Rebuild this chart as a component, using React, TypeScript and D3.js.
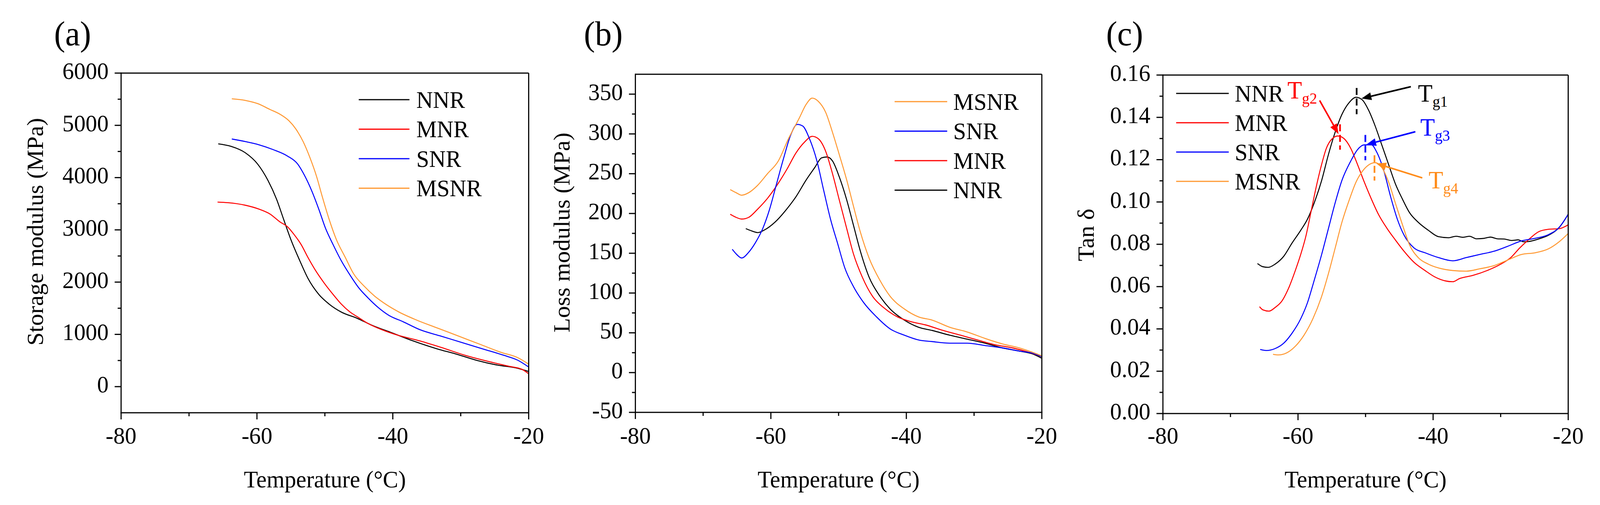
import React from "react";
import * as d3 from "d3";

type Pt = [number, number];

const W = 4228;
const H = 1292;
const FONT = '"Liberation Serif", "Times New Roman", serif';

// x axis (shared)
const tempDomain: [number, number] = [-80, -20];
const tempTicks = [-80, -60, -40, -20];
const tempMinor = [-70, -50, -30];

// y axes
const storageTicks = [0, 1000, 2000, 3000, 4000, 5000, 6000];
const storageMinor = [500, 1500, 2500, 3500, 4500, 5500];
const lossTicks = [-50, 0, 50, 100, 150, 200, 250, 300, 350];
const lossMinor = [-25, 25, 75, 125, 175, 225, 275, 325];
const tanTicks = [0, 0.02, 0.04, 0.06, 0.08, 0.1, 0.12, 0.14, 0.16];
const tanMinor = [0.01, 0.03, 0.05, 0.07, 0.09, 0.11, 0.13, 0.15];

const seriesColors: Record<string, string> = {
  NNR: "#000000",
  MNR: "#ff0000",
  SNR: "#0000ff",
  MSNR: "#ff9933",
};

// (a) storage modulus, MPa
const storageNNR: Pt[] = [
  [-65.7, 4646], [-63.8, 4597], [-61.7, 4474], [-59.9, 4259], [-58.4, 3951], [-57.1, 3582],
  [-56.1, 3212], [-55.0, 2812], [-53.7, 2412], [-52.5, 2074], [-50.9, 1766], [-49.4, 1582],
  [-47.6, 1428], [-45.2, 1305], [-43.2, 1182], [-40.1, 1028], [-37.0, 874], [-33.4, 720],
  [-30.8, 628], [-27.7, 505], [-24.6, 412], [-21.6, 351], [-20, 289],
];
const storageMNR: Pt[] = [
  [-65.8, 3532], [-64.3, 3520], [-61.7, 3471], [-59.7, 3397], [-58.1, 3305], [-56.6, 3151],
  [-55.5, 3059], [-54.5, 2905], [-53.5, 2720], [-52.5, 2474], [-51.4, 2228], [-50.1, 1982],
  [-48.8, 1766], [-47.6, 1582], [-46.3, 1428], [-45.2, 1335], [-43.7, 1212], [-41.6, 1089],
  [-39.6, 997], [-36.0, 874], [-32.9, 751], [-29.3, 597], [-25.7, 474], [-22.6, 382],
  [-21.0, 332], [-20, 246],
];
const storageSNR: Pt[] = [
  [-63.7, 4739], [-61.7, 4689], [-59.7, 4628], [-57.6, 4535], [-55.5, 4412], [-54.0, 4259],
  [-53.0, 4043], [-51.9, 3736], [-50.9, 3397], [-49.9, 3028], [-48.8, 2720], [-47.6, 2412],
  [-46.3, 2135], [-45.0, 1889], [-43.7, 1705], [-42.2, 1520], [-40.6, 1366], [-38.5, 1243],
  [-36.0, 1089], [-32.9, 966], [-29.8, 843], [-26.7, 720], [-23.6, 597], [-21.6, 505], [-20, 375],
];
const storageMSNR: Pt[] = [
  [-63.7, 5508], [-61.7, 5477], [-59.9, 5416], [-58.1, 5305], [-56.6, 5212], [-55.3, 5089],
  [-54.3, 4935], [-53.2, 4689], [-52.2, 4382], [-51.2, 4012], [-50.4, 3643], [-49.4, 3212],
  [-48.3, 2812], [-47.0, 2474], [-45.8, 2166], [-44.2, 1920], [-42.7, 1735], [-41.1, 1582],
  [-39.1, 1428], [-36.5, 1274], [-33.4, 1120], [-30.3, 966], [-27.2, 812], [-24.1, 658],
  [-21.6, 554], [-20, 431],
];

// (b) loss modulus, MPa
const lossMSNR: Pt[] = [
  [-66.0, 230], [-65.1, 226], [-64.3, 223], [-63.3, 226], [-62.0, 235], [-60.5, 250],
  [-58.9, 266], [-57.4, 294], [-55.8, 320], [-54.8, 337], [-53.9, 345], [-53.0, 341],
  [-51.9, 327], [-50.9, 302], [-49.9, 274], [-48.8, 242], [-47.8, 209], [-46.8, 177],
  [-45.5, 144], [-43.9, 116], [-42.4, 96], [-40.3, 80], [-38.2, 70], [-36.2, 66],
  [-33.6, 57], [-31.0, 51], [-28.4, 43], [-25.8, 36], [-23.3, 31], [-21.2, 25], [-20, 21],
];
const lossSNR: Pt[] = [
  [-65.7, 155], [-65.1, 149], [-64.3, 144], [-63.3, 151], [-62.3, 163], [-61.2, 181],
  [-60.2, 205], [-59.2, 236], [-58.1, 270], [-57.1, 298], [-56.1, 312], [-55.3, 310],
  [-54.3, 294], [-53.2, 266], [-52.2, 229], [-51.2, 193], [-50.1, 161], [-49.1, 132],
  [-47.8, 108], [-46.3, 88], [-44.4, 70], [-42.4, 55], [-40.3, 47], [-38.2, 41],
  [-36.2, 39], [-33.6, 37], [-31.0, 37], [-28.4, 34], [-25.8, 31], [-23.3, 27], [-21.2, 24], [-20, 20],
];
const lossMNR: Pt[] = [
  [-66.0, 199], [-65.1, 195], [-64.3, 193], [-63.3, 195], [-62.0, 205], [-60.5, 219],
  [-58.9, 238], [-57.6, 256], [-56.3, 276], [-55.0, 290], [-53.9, 297], [-53.0, 294],
  [-51.9, 278], [-50.9, 250], [-49.9, 217], [-48.8, 181], [-47.8, 149], [-46.5, 120],
  [-45.0, 96], [-43.4, 82], [-41.3, 70], [-39.3, 64], [-37.2, 60], [-34.6, 53],
  [-32.0, 47], [-29.5, 41], [-26.9, 35], [-24.3, 31], [-21.7, 25], [-20, 20],
];
const lossNNR: Pt[] = [
  [-63.7, 181], [-62.8, 178], [-61.9, 176], [-61.0, 179], [-59.4, 189], [-57.9, 203],
  [-56.3, 221], [-54.8, 242], [-53.5, 258], [-52.5, 270], [-51.7, 271], [-50.9, 266],
  [-49.9, 246], [-48.8, 217], [-47.8, 185], [-46.8, 153], [-45.5, 120], [-43.9, 96],
  [-42.4, 80], [-40.3, 66], [-38.2, 57], [-36.2, 53], [-33.6, 47], [-31.0, 42],
  [-28.4, 37], [-25.8, 31], [-23.3, 27], [-21.2, 23], [-20, 18],
];

// (c) tan delta
const tanNNR: Pt[] = [
  [-66.0, 0.0709], [-65.2, 0.0694], [-64.4, 0.0691], [-63.4, 0.0706], [-62.1, 0.0744],
  [-60.9, 0.0805], [-59.6, 0.0866], [-58.6, 0.0919], [-57.6, 0.0996], [-56.5, 0.1102],
  [-55.5, 0.1224], [-54.5, 0.133], [-53.5, 0.1414], [-52.4, 0.1471], [-51.4, 0.1495],
  [-50.5, 0.1483], [-49.6, 0.1437], [-48.6, 0.1361], [-47.6, 0.127], [-46.6, 0.1178],
  [-45.6, 0.1087], [-44.5, 0.1011], [-43.5, 0.095], [-42.2, 0.0904], [-40.7, 0.0866],
  [-39.2, 0.0836], [-37.7, 0.0831], [-36.6, 0.0838], [-35.6, 0.0833], [-34.6, 0.0838],
  [-33.6, 0.0826], [-32.5, 0.0828], [-31.5, 0.0834], [-30.5, 0.0826], [-29.5, 0.0825],
  [-28.4, 0.0818], [-27.4, 0.0821], [-26.6, 0.0812], [-25.9, 0.0813], [-24.4, 0.0825],
  [-22.9, 0.0843], [-21.3, 0.0881], [-20, 0.0942],
];
const tanMNR: Pt[] = [
  [-65.7, 0.0505], [-65.2, 0.049], [-64.3, 0.0484], [-63.4, 0.0501], [-62.4, 0.0531],
  [-61.4, 0.0592], [-60.4, 0.0676], [-59.6, 0.0752], [-58.8, 0.0843], [-58.1, 0.095],
  [-57.3, 0.1072], [-56.5, 0.1178], [-55.8, 0.1254], [-55.0, 0.1297], [-54.1, 0.1312],
  [-53.2, 0.13], [-52.2, 0.1254], [-51.2, 0.1178], [-50.2, 0.1095], [-49.1, 0.1011],
  [-48.1, 0.0942], [-46.8, 0.0874], [-45.6, 0.0821], [-44.3, 0.0767], [-42.8, 0.0714],
  [-41.2, 0.0676], [-39.7, 0.0645], [-38.2, 0.0627], [-37.1, 0.0623], [-36.1, 0.0638],
  [-34.1, 0.0653], [-32.0, 0.0676], [-30.0, 0.0706], [-28.5, 0.0737], [-27.2, 0.0782],
  [-25.9, 0.0821], [-24.4, 0.0859], [-22.9, 0.0871], [-21.3, 0.0874], [-20, 0.0892],
];
const tanSNR: Pt[] = [
  [-65.6, 0.0303], [-64.7, 0.0298], [-63.4, 0.0307], [-62.1, 0.0333], [-60.9, 0.0379],
  [-59.6, 0.0448], [-58.6, 0.0524], [-57.6, 0.063], [-56.5, 0.0752], [-55.5, 0.0874],
  [-54.5, 0.0996], [-53.5, 0.1102], [-52.2, 0.1193], [-51.2, 0.1247], [-50.2, 0.127],
  [-49.1, 0.127], [-48.4, 0.1239], [-47.3, 0.1148], [-46.3, 0.1026], [-45.3, 0.0919],
  [-44.3, 0.0843], [-42.8, 0.0782], [-41.2, 0.076], [-39.2, 0.0737], [-37.1, 0.0722],
  [-35.1, 0.0737], [-33.1, 0.0752], [-31.0, 0.0767], [-29.0, 0.079], [-26.9, 0.0816],
  [-24.9, 0.0828], [-22.9, 0.0846], [-21.3, 0.0881], [-20, 0.0942],
];
const tanMSNR: Pt[] = [
  [-63.7, 0.028], [-62.9, 0.0277], [-61.6, 0.0288], [-60.4, 0.0318], [-59.1, 0.0371],
  [-57.8, 0.0448], [-56.5, 0.0554], [-55.5, 0.0661], [-54.5, 0.0782], [-53.5, 0.0904],
  [-52.4, 0.1011], [-51.4, 0.1095], [-50.4, 0.1148], [-49.4, 0.1178], [-48.6, 0.1186],
  [-47.6, 0.1163], [-46.6, 0.1095], [-45.6, 0.0996], [-44.5, 0.0889], [-43.5, 0.0798],
  [-42.2, 0.0737], [-40.7, 0.0706], [-39.2, 0.0688], [-37.1, 0.0676], [-35.1, 0.0673],
  [-33.1, 0.0684], [-31.0, 0.0699], [-29.0, 0.0725], [-26.9, 0.0752], [-24.9, 0.076],
  [-22.9, 0.0779], [-21.3, 0.0813], [-20, 0.0851],
];

// Tg markers on (c): dash x, dash y range, arrow from/to, label anchor
const tgMarks = [
  { sub: "g1", color: "#000000", dashX: -51.32, dashY: [0.1539, 0.1415], from: [-43.3, 0.1545], to: [-50.6, 0.1489], label: [-42.24, 0.1474] },
  { sub: "g2", color: "#ff0000", dashX: -53.78, dashY: [0.1367, 0.1247], from: [-56.8, 0.148], to: [-54.0, 0.1321], label: [-61.57, 0.1489] },
  { sub: "g3", color: "#0000ff", dashX: -50.03, dashY: [0.1317, 0.1197], from: [-42.63, 0.1332], to: [-49.9, 0.1271], label: [-41.9, 0.1314] },
  { sub: "g4", color: "#ff8c1a", dashX: -48.68, dashY: [0.1221, 0.1101], from: [-41.6, 0.1114], to: [-48.4, 0.1182], label: [-40.67, 0.1064] },
];

interface PanelSpec {
  tag: string;
  yTitle: string;
  box: { left: number; right: number; top: number; bottom: number };
  yDomain: [number, number];
  yTicks: number[];
  yMinor: number[];
  fmt: (v: number) => string;
  series: { name: string; data: Pt[] }[];
  legendOrder: string[];
  legend: { x1: number; x2: number; tx: number; y0: number; dy: number };
  tagX: number;
  yTitleX: number;
  yTitleY: number;
}

const panels: PanelSpec[] = [
  {
    tag: "(a)",
    yTitle: "Storage modulus (MPa)",
    box: { left: 320, right: 1397, top: 187, bottom: 1056 },
    yDomain: [-500, 6000],
    yTicks: storageTicks,
    yMinor: storageMinor,
    fmt: (v) => String(v),
    series: [
      { name: "NNR", data: storageNNR },
      { name: "MNR", data: storageMNR },
      { name: "SNR", data: storageSNR },
      { name: "MSNR", data: storageMSNR },
    ],
    legendOrder: ["NNR", "MNR", "SNR", "MSNR"],
    legend: { x1: 948, x2: 1082, tx: 1100, y0: 255, dy: 75.5 },
    tagX: 143,
    yTitleX: 114,
    yTitleY: 593,
  },
  {
    tag: "(b)",
    yTitle: "Loss modulus (MPa)",
    box: { left: 1679, right: 2753, top: 190, bottom: 1055 },
    yDomain: [-50, 375],
    yTicks: lossTicks,
    yMinor: lossMinor,
    fmt: (v) => String(v),
    series: [
      { name: "NNR", data: lossNNR },
      { name: "MNR", data: lossMNR },
      { name: "SNR", data: lossSNR },
      { name: "MSNR", data: lossMSNR },
    ],
    legendOrder: ["MSNR", "SNR", "MNR", "NNR"],
    legend: { x1: 2364, x2: 2503, tx: 2519, y0: 260, dy: 75.5 },
    tagX: 1543,
    yTitleX: 1505,
    yTitleY: 595,
  },
  {
    tag: "(c)",
    yTitle: "Tan δ",
    box: { left: 3073, right: 4144, top: 192, bottom: 1058 },
    yDomain: [0, 0.16],
    yTicks: tanTicks,
    yMinor: tanMinor,
    fmt: (v) => v.toFixed(2),
    series: [
      { name: "NNR", data: tanNNR },
      { name: "MNR", data: tanMNR },
      { name: "SNR", data: tanSNR },
      { name: "MSNR", data: tanMSNR },
    ],
    legendOrder: ["NNR", "MNR", "SNR", "MSNR"],
    legend: { x1: 3108, x2: 3247, tx: 3263, y0: 239, dy: 75 },
    tagX: 2923,
    yTitleX: 2890,
    yTitleY: 601,
  },
];

const MAJOR = 17;
const MINOR = 9;
const AXIS_W = 3;
const FS = 61;
const CURVE_W = 2.6;

function Arrow({ x1, y1, x2, y2, color }: { x1: number; y1: number; x2: number; y2: number; color: string }) {
  const ang = Math.atan2(y2 - y1, x2 - x1);
  const len = 26;
  const half = 10;
  const bx = x2 - len * Math.cos(ang);
  const by = y2 - len * Math.sin(ang);
  const px = -Math.sin(ang) * half;
  const py = Math.cos(ang) * half;
  return (
    <g>
      <line x1={x1} y1={y1} x2={bx} y2={by} stroke={color} strokeWidth={4} />
      <polygon points={`${x2},${y2} ${bx + px},${by + py} ${bx - px},${by - py}`} fill={color} />
    </g>
  );
}

function Panel({ p }: { p: PanelSpec }) {
  const { left, right, top, bottom } = p.box;
  const x = d3.scaleLinear().domain(tempDomain).range([left, right]);
  const y = d3.scaleLinear().domain(p.yDomain).range([bottom, top]);
  const line = d3
    .line<Pt>()
    .x((d) => x(d[0]))
    .y((d) => y(d[1]))
    .curve(d3.curveMonotoneX);

  return (
    <g fontFamily={FONT}>
      <text x={p.tagX} y={116} fontSize={88} fill="#000">{p.tag}</text>

      {/* curves */}
      {p.series.map((s) => (
        <path key={s.name} d={line(s.data) || ""} fill="none" stroke={seriesColors[s.name]} strokeWidth={CURVE_W} strokeLinejoin="round" />
      ))}

      {/* frame */}
      <line x1={left} x2={right} y1={top} y2={top} stroke="#000" strokeWidth={AXIS_W} />
      <line x1={right} x2={right} y1={top} y2={bottom} stroke="#000" strokeWidth={AXIS_W} />
      <line x1={left} x2={left} y1={top - 1.5} y2={bottom + 1.5} stroke="#000" strokeWidth={AXIS_W} />
      <line x1={left - 1.5} x2={right + 1.5} y1={bottom} y2={bottom} stroke="#000" strokeWidth={AXIS_W} />

      {/* x ticks */}
      {tempTicks.map((t) => (
        <g key={`xt${t}`}>
          <line x1={x(t)} x2={x(t)} y1={bottom} y2={bottom + MAJOR} stroke="#000" strokeWidth={AXIS_W} />
          <text x={x(t)} y={1135} fontSize={FS} textAnchor="middle">{t}</text>
        </g>
      ))}
      {tempMinor.map((t) => (
        <line key={`xm${t}`} x1={x(t)} x2={x(t)} y1={bottom} y2={bottom + MINOR} stroke="#000" strokeWidth={AXIS_W} />
      ))}

      {/* y ticks */}
      {p.yTicks.map((v) => (
        <g key={`yt${v}`}>
          <line x1={left - MAJOR} x2={left} y1={y(v)} y2={y(v)} stroke="#000" strokeWidth={AXIS_W} />
          <text x={left - 33} y={y(v) + 15} fontSize={FS} textAnchor="end">{p.fmt(v)}</text>
        </g>
      ))}
      {p.yMinor.map((v) => (
        <line key={`ym${v}`} x1={left - MINOR} x2={left} y1={y(v)} y2={y(v)} stroke="#000" strokeWidth={AXIS_W} />
      ))}

      {/* axis titles */}
      <text x={(left + right) / 2} y={1247} fontSize={FS} textAnchor="middle">Temperature (°C)</text>
      <text
        transform={`translate(${p.yTitleX},${p.yTitleY}) rotate(-90)`}
        fontSize={FS}
        textAnchor="middle"
      >
        {p.yTitle}
      </text>

      {/* legend */}
      {p.legendOrder.map((name, i) => {
        const ly = p.legend.y0 + i * p.legend.dy;
        return (
          <g key={`lg${name}`}>
            <line x1={p.legend.x1} x2={p.legend.x2} y1={ly} y2={ly} stroke={seriesColors[name]} strokeWidth={3} />
            <text x={p.legend.tx} y={ly + 21} fontSize={FS}>{name}</text>
          </g>
        );
      })}

      {/* Tg annotations for tan delta */}
      {p.tag === "(c)" &&
        tgMarks.map((m) => (
          <g key={m.sub}>
            <line
              x1={x(m.dashX)} x2={x(m.dashX)} y1={y(m.dashY[0])} y2={y(m.dashY[1])}
              stroke={m.color} strokeWidth={4.5} strokeDasharray="18 9"
            />
            <Arrow x1={x(m.from[0])} y1={y(m.from[1])} x2={x(m.to[0])} y2={y(m.to[1])} color={m.color} />
            <text x={x(m.label[0])} y={y(m.label[1])} fontSize={63} fill={m.color}>
              T<tspan fontSize={40} dy={13}>{m.sub}</tspan>
            </text>
          </g>
        ))}
    </g>
  );
}

export default function App() {
  return (
    <div style={{ position: "fixed", left: 0, top: 0, width: "100vw", height: "100vh", background: "#fff", overflow: "hidden" }}>
      <style>{`html,body{margin:0;padding:0;background:#fff;overflow:hidden}`}</style>
      <svg
        width="100%"
        height="100%"
        viewBox={`0 0 ${W} ${H}`}
        preserveAspectRatio="none"
        style={{ display: "block" }}
      >
        <rect width={W} height={H} fill="#fff" />
        {panels.map((p) => (
          <Panel key={p.tag} p={p} />
        ))}
      </svg>
    </div>
  );
}
